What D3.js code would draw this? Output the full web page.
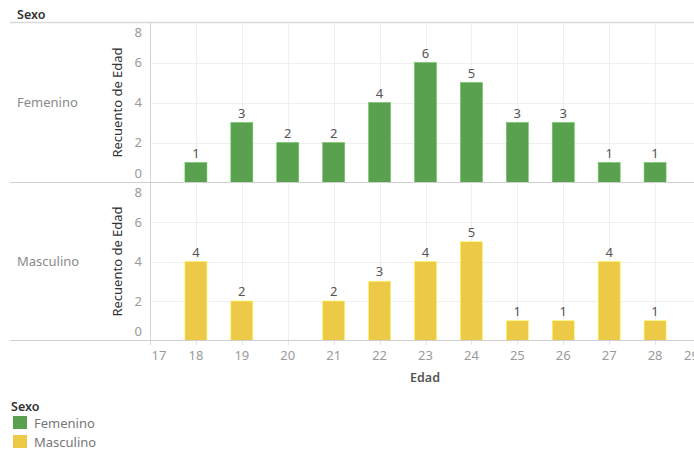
<!DOCTYPE html>
<html>
<head>
<meta charset="utf-8">
<script src="https://cdn.jsdelivr.net/npm/d3@7"></script>
<style>
  html, body { margin: 0; padding: 0; background: #fff; }
  svg { display: block; font-family: "Noto Sans", "Open Sans", sans-serif; }
</style>
</head>
<body>
<svg id="chart" width="694" height="451"></svg>
<script>
// Age values (x axis) and counts per sex
const edades = [18, 19, 20, 21, 22, 23, 24, 25, 26, 27, 28];
const femenino = [1, 3, 2, 2, 4, 6, 5, 3, 3, 1, 1];
const masculino = [4, 2, 0, 2, 3, 4, 5, 1, 1, 4, 1];
const xTicks = [17, 18, 19, 20, 21, 22, 23, 24, 25, 26, 27, 28, 29];
const yTicks = [0, 2, 4, 6, 8];
const sexos = ["Femenino", "Masculino"];
const colores = ["#59a14f", "#edc948"];

const svg = d3.select("#chart");
const W = 694;
const FS = 13;
const axisX = 150.5;
const panels = [
  { name: sexos[0], values: femenino, color: colores[0], top: 22.5, bottom: 182.5 },
  { name: sexos[1], values: masculino, color: colores[1], top: 182.5, bottom: 340.5 }
];

const x = d3.scaleLinear().domain([17, 29]).range([150, 701]);
const barW = 22;

svg.append("defs").append("clipPath").attr("id", "plotclip")
  .append("rect").attr("x", axisX).attr("y", 0).attr("width", W - axisX).attr("height", 451);

// Header
svg.append("text").attr("x", 17).attr("y", 19).attr("font-size", 12.5)
  .attr("font-weight", 600).attr("fill", "#333").text("Sexo");

panels.forEach(p => {
  const y = d3.scaleLinear().domain([0, 8]).range([p.bottom, p.top]);
  const g = svg.append("g");

  // horizontal gridlines
  g.selectAll("line.hg").data([2, 4, 6]).join("line")
    .attr("x1", axisX).attr("x2", W)
    .attr("y1", d => Math.round(y(d)) + 0.5).attr("y2", d => Math.round(y(d)) + 0.5)
    .attr("stroke", "#efefef");

  // vertical gridlines
  g.selectAll("line.vg").data(xTicks.slice(1)).join("line")
    .attr("x1", d => Math.round(x(d)) + 0.5).attr("x2", d => Math.round(x(d)) + 0.5)
    .attr("y1", p.top).attr("y2", p.bottom)
    .attr("stroke", "#efefef");

  // bars
  const data = edades.map((e, i) => ({ e, v: p.values[i] })).filter(d => d.v > 0);
  g.append("g").attr("clip-path", "url(#plotclip)")
    .selectAll("rect").data(data).join("rect")
    .attr("x", d => x(d.e) - barW / 2)
    .attr("y", d => y(d.v))
    .attr("width", barW)
    .attr("height", d => y(0) - y(d.v))
    .attr("fill", p.color)
    .attr("stroke", d3.color(p.color).brighter(0.6))
    .attr("stroke-width", 0.6);

  // value labels
  g.selectAll("text.val").data(data).join("text")
    .attr("x", d => x(d.e))
    .attr("y", d => y(d.v) - 5)
    .attr("text-anchor", "middle")
    .attr("font-size", FS)
    .attr("fill", "#555")
    .text(d => d.v);

  // y tick labels, kept inside the panel
  g.selectAll("text.yt").data(yTicks).join("text")
    .attr("x", 142)
    .attr("y", d => {
      let c = y(d);
      if (d === 0) c -= 9;
      if (d === 8) c += 10;
      return c + 4.5;
    })
    .attr("text-anchor", "end")
    .attr("font-size", FS)
    .attr("fill", "#9a9a9a")
    .text(d => d);

  // y axis title
  const mid = (p.top + p.bottom) / 2;
  g.append("text")
    .attr("transform", `translate(122,${mid}) rotate(-90)`)
    .attr("text-anchor", "middle")
    .attr("font-size", FS)
    .attr("fill", "#333")
    .text("Recuento de Edad");

  // row label
  g.append("text").attr("x", 17).attr("y", mid + 4.5)
    .attr("font-size", FS).attr("fill", "#8a8a8a").text(p.name);
});

// frame lines
[22.5, 182.5, 340.5].forEach((yy, i) => {
  svg.append("line").attr("x1", 10).attr("x2", W).attr("y1", yy).attr("y2", yy)
    .attr("stroke", i === 0 ? "#d9d9d9" : "#cfcfcf").attr("stroke-width", i === 0 ? 1.5 : 1);
});
svg.append("line").attr("x1", axisX).attr("x2", axisX).attr("y1", 22).attr("y2", 345)
  .attr("stroke", "#d4d4d4");

// x axis ticks and labels
const xg = svg.append("g").attr("clip-path", "url(#plotclip)");
xg.selectAll("line").data(xTicks.slice(1)).join("line")
  .attr("x1", d => Math.round(x(d)) + 0.5).attr("x2", d => Math.round(x(d)) + 0.5)
  .attr("y1", 341).attr("y2", 345).attr("stroke", "#e6e6e6");
svg.append("g").attr("clip-path", "url(#plotclip)")
  .selectAll("text").data(xTicks).join("text")
  .attr("x", (d, i) => i === 0 ? axisX + 1 : (i === xTicks.length - 1 ? 684 : x(d)))
  .attr("y", 360)
  .attr("text-anchor", (d, i) => (i === 0 || i === xTicks.length - 1) ? "start" : "middle")
  .attr("font-size", FS)
  .attr("fill", "#9a9a9a")
  .text(d => d);

svg.append("text").attr("x", 425).attr("y", 382).attr("text-anchor", "middle")
  .attr("font-size", 12.5).attr("font-weight", 600).attr("fill", "#555").text("Edad");

// legend
const lg = svg.append("g");
lg.append("text").attr("x", 11).attr("y", 411).attr("font-size", 12.5)
  .attr("font-weight", 600).attr("fill", "#333").text("Sexo");
sexos.forEach((s, i) => {
  lg.append("rect").attr("x", 13).attr("y", 416 + i * 19).attr("width", 14).attr("height", 13)
    .attr("fill", colores[i]);
  lg.append("text").attr("x", 34).attr("y", 427.5 + i * 19).attr("font-size", FS)
    .attr("fill", "#777").text(s);
});
</script>
</body>
</html>
